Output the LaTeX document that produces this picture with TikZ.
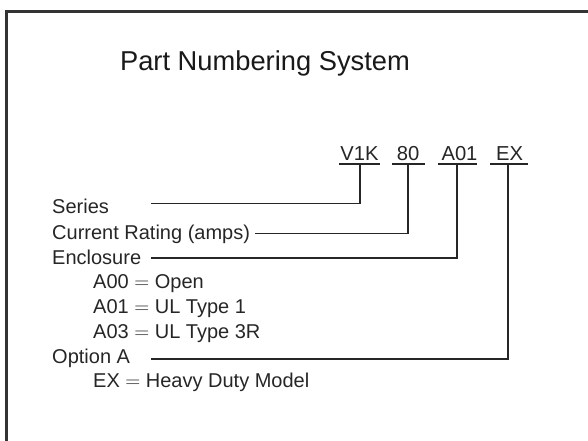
\documentclass[tikz,border=0pt]{standalone}
\usepackage{fontspec}
\setmainfont{Liberation Sans}
\newcommand{\eqsign}{\ensuremath{=}}
\begin{document}
\begin{tikzpicture}[x=1pt,y=-1pt,
  txt/.style={anchor=base west,inner sep=0pt,text=black!85,font=\fontsize{20}{24}\selectfont},
  code/.style={anchor=base,inner sep=0pt,text=black!85,font=\fontsize{20.2}{24}\selectfont},
  ttl/.style={anchor=base,inner sep=0pt,text=black!90,font=\fontsize{27.3}{32}\selectfont},
  conn/.style={draw=black!85,line width=1.1pt},
  frame/.style={draw=black!80,line width=2.4pt}]
\useasboundingbox (0,0) rectangle (588,440);
% frame (only left and top edges fall inside the picture)
\draw[frame] (6.5,445) -- (6.5,11.5) -- (595,11.5);
% title
\node[ttl] (title) at (265,70) {Part Numbering System};
% code parts
\node[code] (cV) at (359.5,160) {V1K};
\node[code] (c80) at (408,160) {80};
\node[code] (cA) at (459.5,160) {A01};
\node[code] (cE) at (509.5,160) {EX};
\coordinate (uV) at (360,164);
\coordinate (u80) at (408,164);
\coordinate (uA) at (457,164);
\coordinate (uE) at (508,164);
\draw[conn] (339,164) -- (380,164);
\draw[conn] (392,164) -- (425,164);
\draw[conn] (438,164) -- (477,164);
\draw[conn] (490,164) -- (528,164);
% labels
\node[txt] (series) at (52,213) {Series};
\node[txt] (rating) at (52,239) {Current Rating (amps)};
\node[txt] (encl) at (52,264) {Enclosure};
\node[txt] (a00) at (93,288.5) {A00 \eqsign{} Open};
\node[txt] (a01) at (93,313) {A01 \eqsign{} UL Type 1};
\node[txt] (a03) at (93,338) {A03 \eqsign{} UL Type 3R};
\node[txt] (opt) at (52,363.5) {Option A};
\node[txt] (ex) at (93,387) {EX \eqsign{} Heavy Duty Model};
% connector start points
\coordinate (sS) at (151,203.5);
\coordinate (sR) at ([xshift=5pt]rating.east |- 0,233.5);
\coordinate (sE) at (151,258);
\coordinate (sO) at (151,359);
\draw[conn] (sS) -| (uV);
\draw[conn] (sR) -| (u80);
\draw[conn] (sE) -| (uA);
\draw[conn] (sO) -| (uE);
\end{tikzpicture}
\end{document}
